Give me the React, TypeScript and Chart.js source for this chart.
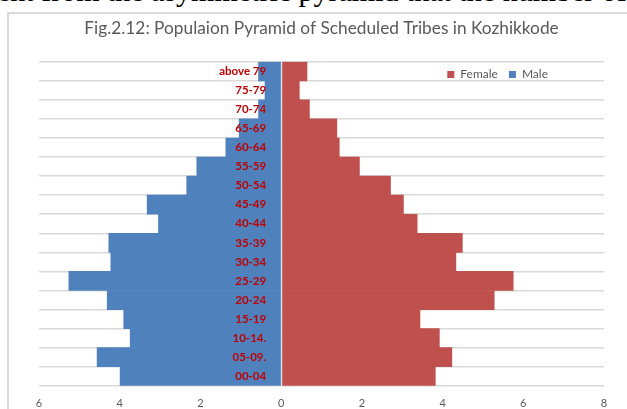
import React, { useEffect, useRef } from 'react';
import { Chart, registerables } from 'chart.js';

Chart.register(...registerables);

const TITLE = 'Fig.2.12: Populaion Pyramid of Scheduled Tribes in Kozhikkode';
const DOC_TEXT = 'ent from the asymmetric pyramid that the number of Scheduled';

const ageGroups = [
  '00-04', '05-09.', '10-14.', '15-19', '20-24', '25-29', '30-34', '35-39',
  '40-44', '45-49', '50-54', '55-59', '60-64', '65-69', '70-74', '75-79', 'above 79',
];

const maleValues = [
  3.99, 4.56, 3.74, 3.9, 4.31, 5.26, 4.22, 4.27,
  3.04, 3.32, 2.34, 2.09, 1.37, 1.04, 0.56, 0.4, 0.56,
];

const femaleValues = [
  3.82, 4.23, 3.92, 3.44, 5.28, 5.75, 4.33, 4.49,
  3.37, 3.03, 2.71, 1.94, 1.44, 1.38, 0.7, 0.45, 0.64,
];

const xMin = -6;
const xMax = 8;
const xStep = 2;
const labelAnchor = -0.37;

const FEMALE_COLOR = '#c0504d';
const MALE_COLOR = '#4f81bd';

const overlayLegend = {
  id: 'overlayLegend',
  beforeInit(chart: any) {
    const legend = chart.legend;
    if (!legend || legend.__patched) return;
    const origFit = legend.fit;
    legend.fit = function () {
      origFit.call(this);
      this.height = 0;
    };
    legend.__patched = true;
  },
  afterLayout(chart: any) {
    const legend = chart.legend;
    if (!legend) return;
    legend.top = 43.5;
    legend.bottom = legend.top + 24;
    legend.height = 24;
    legend.left = chart.chartArea.left;
    legend.right = 550;
    legend.width = legend.right - legend.left;
  },
};

export default function App() {
  const canvasRef = useRef<HTMLCanvasElement | null>(null);

  useEffect(() => {
    const canvas = canvasRef.current;
    if (!canvas) return;
    const chart = new Chart(canvas, {
      type: 'bar',
      data: {
        labels: ageGroups,
        datasets: [
          {
            label: 'Female',
            data: femaleValues,
            backgroundColor: FEMALE_COLOR,
            borderWidth: 0,
            barPercentage: 1,
            categoryPercentage: 1,
          },
          {
            label: 'Male',
            data: maleValues.map((v) => -v),
            backgroundColor: MALE_COLOR,
            borderWidth: 0,
            barPercentage: 1,
            categoryPercentage: 1,
          },
        ],
      },
      options: {
        indexAxis: 'y',
        animation: false,
        responsive: true,
        maintainAspectRatio: false,
        layout: { padding: { left: 30, right: 23, top: 0, bottom: 4 } },
        plugins: {
          title: {
            display: true,
            text: TITLE,
            color: '#595959',
            font: { family: 'Lato', size: 17.3, weight: 'normal' },
            padding: { top: 4.5, bottom: 22.5 },
          },
          legend: {
            display: true,
            position: 'top',
            align: 'end',
            labels: {
              boxWidth: 7,
              boxHeight: 7,
              padding: 11,
              color: '#595959',
              font: { family: 'Lato', size: 12 },
            },
          },
          tooltip: { enabled: false },
        },
        scales: {
          x: {
            type: 'linear',
            stacked: true,
            min: xMin,
            max: xMax,
            ticks: {
              stepSize: xStep,
              callback: (v: any) => String(Math.abs(Number(v))),
              color: '#595959',
              font: { family: 'Lato', size: 11 },
              padding: 11,
            },
            grid: {
              display: true,
              drawTicks: false,
              z: 1,
              lineWidth: 1.2,
              color: (ctx: any) => (ctx.tick && ctx.tick.value === 0 ? '#e6e6e6' : 'rgba(0,0,0,0)'),
            },
            border: { display: false },
          },
          y: {
            type: 'category',
            stacked: true,
            reverse: true,
            position: { x: labelAnchor },
            grid: {
              color: '#d9d9d9',
              lineWidth: 1.5,
              drawTicks: false,
            },
            border: { display: false },
            ticks: {
              z: 1,
              color: '#c00000',
              font: { family: 'Lato', size: 11.5, weight: 'bold' },
              padding: 0,
            },
          },
        },
      } as any,
      plugins: [overlayLegend as any],
    });
    return () => chart.destroy();
  }, []);

  return (
    <div
      style={{
        position: 'fixed',
        left: 0,
        top: 0,
        width: 627,
        height: 409,
        overflow: 'hidden',
        background: '#ffffff',
      }}
    >
      <div
        style={{
          position: 'absolute',
          left: -3,
          top: -24,
          fontFamily: '"Liberation Serif", "Times New Roman", serif',
          fontSize: 30,
          lineHeight: '30px',
          whiteSpace: 'nowrap',
          color: '#000',
        }}
      >
        {DOC_TEXT}
      </div>
      <div
        style={{
          position: 'absolute',
          left: 7,
          top: 12,
          width: 700,
          height: 500,
          border: '2px solid #d9d9d9',
          boxSizing: 'border-box',
          background: '#fff',
        }}
      />
      <div style={{ position: 'absolute', left: 9, top: 14, width: 618, height: 411 }}>
        <canvas ref={canvasRef} />
      </div>
    </div>
  );
}
